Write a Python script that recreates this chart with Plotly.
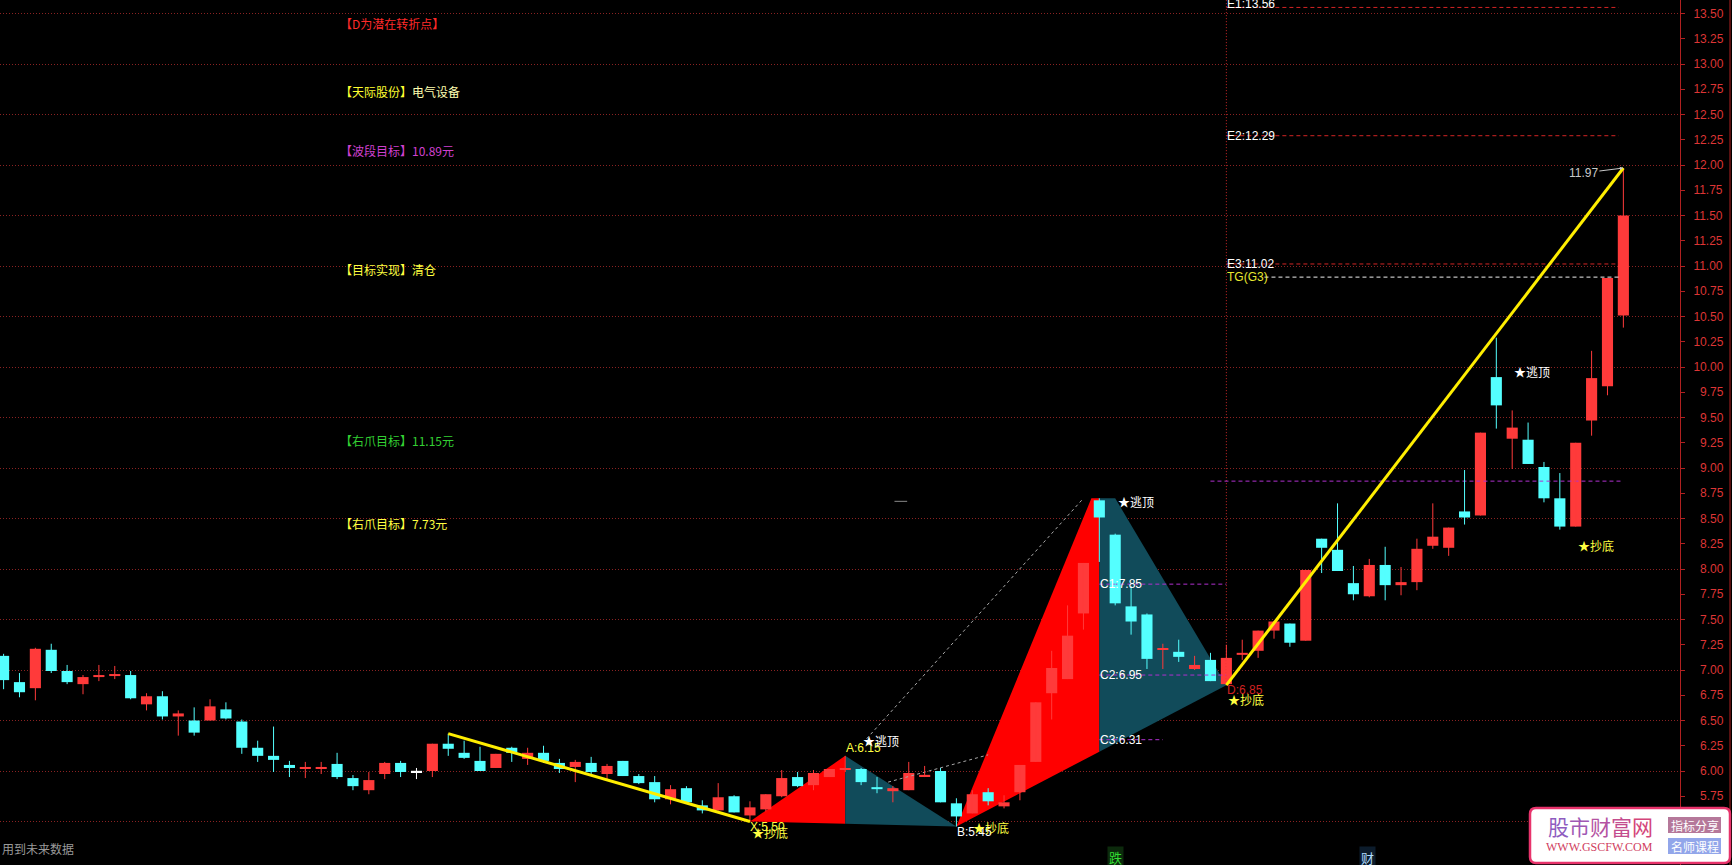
import plotly.graph_objects as go

W, H = 1732, 865

# ---------------- data ----------------
opens = [7.14, 6.88, 6.82, 7.20, 6.99, 6.86, 6.93, 6.94, 6.95, 6.66,
         6.74, 6.54, 6.50, 6.50, 6.61, 6.49, 6.23, 6.15, 6.06, 6.02,
         6.02, 6.07, 5.93, 5.81, 5.97, 6.08, 5.99, 6.00, 6.27, 6.18,
         6.10, 6.03, 6.23, 6.12, 6.18, 6.08, 6.04, 6.08, 5.97, 6.10,
         5.95, 5.89, 5.72, 5.83, 5.66, 5.61, 5.75, 5.56, 5.62, 5.75,
         5.94, 5.86, 5.94, 6.01, 6.02, 5.84, 5.80, 5.81, 5.95, 6.00,
         5.68, 5.58, 5.79, 5.65, 5.79, 6.09, 6.77, 6.91, 7.56, 8.68,
         8.34, 7.63, 7.55, 7.20, 7.18, 7.01, 7.10, 6.86, 7.15, 7.19,
         7.39, 7.46, 7.29, 8.30, 8.19, 7.86, 7.73, 8.04, 7.84, 7.87,
         8.23, 8.21, 8.57, 8.53, 9.90, 9.29, 9.28, 9.01, 8.70, 8.42,
         9.47, 9.81, 10.51]
highs = [7.16, 6.97, 7.22, 7.26, 7.05, 6.95, 7.05, 7.04, 6.99, 6.77,
         6.79, 6.60, 6.63, 6.71, 6.68, 6.51, 6.30, 6.44, 6.10, 6.09,
         6.09, 6.18, 5.96, 5.99, 6.09, 6.10, 6.03, 6.27, 6.37, 6.30,
         6.24, 6.17, 6.24, 6.23, 6.25, 6.12, 6.11, 6.14, 6.07, 6.10,
         5.97, 5.95, 5.86, 5.85, 5.71, 5.88, 5.76, 5.70, 5.77, 6.01,
         5.99, 6.01, 6.02, 6.15, 6.03, 5.94, 5.85, 6.09, 6.05, 6.03,
         5.73, 5.81, 5.83, 5.76, 6.06, 6.68, 7.19, 7.64, 8.06, 8.70,
         8.35, 7.83, 7.56, 7.26, 7.30, 7.14, 7.17, 7.25, 7.30, 7.39,
         7.48, 7.46, 7.99, 8.30, 8.65, 8.03, 8.10, 8.22, 8.02, 8.30,
         8.65, 8.41, 8.98, 9.35, 10.29, 9.57, 9.45, 9.06, 8.95, 9.25,
         10.16, 10.88, 11.97]
lows = [6.81, 6.73, 6.70, 6.97, 6.86, 6.76, 6.89, 6.91, 6.71, 6.60,
        6.51, 6.35, 6.35, 6.50, 6.51, 6.17, 6.09, 5.99, 5.94, 5.93,
        5.97, 5.92, 5.81, 5.77, 5.92, 5.94, 5.92, 5.94, 6.15, 6.12,
        6.00, 6.03, 6.09, 6.06, 6.08, 5.98, 5.89, 5.97, 5.92, 5.95,
        5.87, 5.69, 5.67, 5.69, 5.58, 5.61, 5.59, 5.50, 5.60, 5.74,
        5.84, 5.81, 5.94, 5.99, 5.86, 5.78, 5.69, 5.81, 5.94, 5.69,
        5.45, 5.58, 5.66, 5.63, 5.71, 6.09, 6.51, 6.91, 7.40, 8.07,
        7.64, 7.35, 7.01, 7.01, 7.08, 7.00, 6.89, 6.85, 7.10, 7.12,
        7.31, 7.23, 7.29, 7.96, 7.98, 7.69, 7.72, 7.69, 7.74, 7.79,
        8.20, 8.13, 8.44, 8.53, 9.39, 8.99, 9.04, 8.66, 8.39, 8.42,
        9.32, 9.72, 10.39]
closes = [6.90, 6.78, 7.21, 6.99, 6.88, 6.93, 6.95, 6.96, 6.72, 6.74,
          6.54, 6.57, 6.38, 6.64, 6.52, 6.23, 6.15, 6.11, 6.03, 6.04,
          6.04, 5.94, 5.85, 5.91, 6.08, 5.99, 5.99, 6.27, 6.22, 6.13,
          6.00, 6.17, 6.18, 6.18, 6.10, 6.02, 6.09, 5.99, 6.05, 5.95,
          5.88, 5.72, 5.82, 5.69, 5.61, 5.74, 5.59, 5.64, 5.77, 5.93,
          5.85, 5.98, 6.02, 6.03, 5.89, 5.82, 5.83, 5.98, 5.96, 5.69,
          5.55, 5.77, 5.70, 5.69, 6.06, 6.68, 7.02, 7.34, 8.06, 8.51,
          7.66, 7.48, 7.11, 7.21, 7.13, 7.05, 6.89, 7.12, 7.17, 7.39,
          7.48, 7.27, 7.99, 8.21, 7.98, 7.75, 8.04, 7.84, 7.87, 8.20,
          8.32, 8.41, 8.51, 9.35, 9.62, 9.40, 9.04, 8.70, 8.42, 9.25,
          9.89, 10.88, 11.50]

# pattern points (bar index, price)
pt_X = (47, 5.50)
pt_A = (53, 6.15)
pt_B = (60, 5.45)
pt_C = (69, 8.70)
pt_D = (77, 6.85)
trend_start = (28, 6.37)
trend_end = (102, 11.97)

E_names = ["E1", "E2", "E3"]
E_values = [13.56, 12.29, 11.02]
TG_value = 10.89
C_names = ["C1", "C2", "C3"]
C_values = [7.85, 6.95, 6.31]
C_ends = [77, 77, 73]
band_level = 8.87
band_span = (76, 102)
guide1 = [(54.35, 6.32), (68.0, 8.70)]
guide2 = [(55.7, 5.89), (62.0, 6.16)]
guide3 = [(56.1, 8.67), (56.9, 8.67)]
sig_top2 = (95, 9.96)
sig_bot2 = (99, 8.23)

tick_vals = [5.75 + 0.25 * k for k in range(32)]
grid_vals = [5.5 + 0.5 * k for k in range(17)]

left_texts = [
    ("<span style='color:#ff2a2a'>【D为潜在转折点】</span>", 23),
    ("<span style='color:#ffff30'>【天际股份】</span><span style='color:#ffffb0'>电气设备</span>", 91),
    ("<span style='color:#d040d0'>【波段目标】10.89元</span>", 150),
    ("<span style='color:#ffff40'>【目标实现】清仓</span>", 269),
    ("<span style='color:#33d033'>【右爪目标】11.15元</span>", 440),
    ("<span style='color:#ffff40'>【右爪目标】7.73元</span>", 523),
]

# ---------------- styles ----------------
RED = "#ff3a3a"
CYAN = "#54ffff"
LAT = "Liberation Sans, Arial, sans-serif"
CJK = "Noto Sans CJK SC, Liberation Sans, sans-serif"

n = len(opens)
idx = list(range(n))

# pixel geometry: bar i center at 3.6 + 15.88 * i ; plot width 1680 px
PLOT_W = 1680
x0 = -3.6 / 15.88
x1 = (PLOT_W - 3.6) / 15.88
# price p -> y = 771 - (p-6)*101
y_hi = 6 + 771 / 101
y_lo = 6 - (H - 771) / 101

fig = go.Figure()

# empty trace on grid axis
fig.add_trace(go.Scatter(x=[None], y=[None], yaxis="y2", showlegend=False, hoverinfo="skip"))

shapes = []


def poly(pts, color):
    path = "M " + " L ".join("%f,%f" % (p[0], p[1]) for p in pts) + " Z"
    shapes.append(dict(type="path", xref="x", yref="y", path=path, fillcolor=color,
                       line=dict(width=0), layer="between"))


baseA = pt_X[1] + (pt_B[1] - pt_X[1]) * (pt_A[0] - pt_X[0]) / (pt_B[0] - pt_X[0])
baseC = pt_B[1] + (pt_D[1] - pt_B[1]) * (pt_C[0] - pt_B[0]) / (pt_D[0] - pt_B[0])
TEAL = "#114b5a"
poly([pt_X, pt_A, (pt_A[0], baseA)], "#ff0000")
poly([pt_A, pt_B, (pt_A[0], baseA)], TEAL)
poly([pt_B, (pt_C[0] - 0.5, pt_C[1]), pt_C, (pt_C[0], baseC)], "#ff0000")
poly([pt_C, (pt_C[0] + 1, pt_C[1]), pt_D, (pt_C[0], baseC)], TEAL)


def seg(pts, color, width=1, dash="solid"):
    fig.add_trace(go.Scatter(x=[p[0] for p in pts], y=[p[1] for p in pts], mode="lines",
                             line=dict(color=color, width=width, dash=dash),
                             showlegend=False, hoverinfo="skip"))


seg(guide1, "#a8a8a8", 1, "3px,3px")
seg(guide2, "#a8a8a8", 1, "3px,3px")
seg(guide3, "#888888", 1)

# vertical dotted line at D
seg([(pt_D[0], pt_D[1]), (pt_D[0], y_hi)], "#c82828", 1, "1px,2px")

# E levels / TG
for v in E_values:
    seg([(pt_D[0], v), (101.7, v)], "#d22424", 1, "4px,3px")
seg([(pt_D[0] + 2.4, TG_value), (101.7, TG_value)], "#f0f0f0", 1, "4px,3px")
# C levels
for v, e in zip(C_values, C_ends):
    seg([(pt_C[0], v), (e, v)], "#b030d0", 1, "4px,3px")
seg([(band_span[0], band_level), (band_span[1], band_level)], "#b030d0", 1, "4px,3px")

# candles
groups = {"red": [], "cyan": [], "white": []}
for i in idx:
    o, c = opens[i], closes[i]
    k = "red" if c > o else ("cyan" if c < o else "white")
    groups[k].append(i)
gcol = {"red": RED, "cyan": CYAN, "white": "#ffffff"}
for k, ids in groups.items():
    wx, wy = [], []
    for i in ids:
        wx += [i, i, None]
        wy += [lows[i], highs[i], None]
    fig.add_trace(go.Scatter(x=wx, y=wy, mode="lines", line=dict(color=gcol[k], width=1),
                             showlegend=False, hoverinfo="skip"))
    fig.add_trace(go.Bar(x=ids,
                         y=[max(abs(closes[i] - opens[i]), 0.012) for i in ids],
                         base=[min(opens[i], closes[i]) for i in ids],
                         width=0.7, marker=dict(color=gcol[k], line=dict(width=0)),
                         showlegend=False, hoverinfo="skip"))

# yellow trend lines
seg([trend_start, pt_X], "#ffee00", 3)
seg([pt_D, trend_end], "#ffee00", 3)

ann = []


def label(text, pt, color, xshift=0, yshift=0, font=LAT, size=12):
    ann.append(dict(x=pt[0], y=pt[1], xref="x", yref="y", text=text, showarrow=False,
                    xanchor="left", yanchor="middle", xshift=xshift, yshift=yshift,
                    font=dict(family=font, size=size, color=color)))


label("X:%.2f" % pt_X[1], pt_X, "#ffff40", -2, -5)
label("★抄底", pt_X, "#ffff40", 0, -11, CJK)
label("A:%.2f" % pt_A[1], pt_A, "#ffff40", -1, 8)
label("★逃顶", pt_A, "#ffffff", 16, 15, CJK)
label("B:%.2f" % pt_B[1], pt_B, "#ffffff", -1, -5)
label("★抄底", pt_B, "#ffff40", 15, -1, CJK)
label("★逃顶", pt_C, "#ffffff", 17, -3, CJK)
for nm, v in zip(C_names, C_values):
    label("%s:%.2f" % (nm, v), (pt_C[0], v), "#ffffff", -1, 0)
label("D:%.2f" % pt_D[1], pt_D, "#d02020", -1, -5)
label("★抄底", pt_D, "#ffff40", 0, -14, CJK)
for nm, v in zip(E_names, E_values):
    label("%s:%.2f" % (nm, v), (pt_D[0], v), "#ffffff", -1, 3 if v > 13.4 else 0)
label("TG(G3)", (pt_D[0], TG_value), "#e8e830", -1, 0)
label("★逃顶", sig_top2, "#ffffff", 0, 0, CJK)
label("★抄底", sig_bot2, "#ffff40", 0, 0, CJK)

ann.append(dict(x=trend_end[0], y=trend_end[1], xref="x", yref="y", text="%.2f" % trend_end[1],
                showarrow=True, arrowhead=2, arrowsize=0.7, arrowwidth=1, arrowcolor="#c8c8c8",
                ax=-40, ay=5, font=dict(family=LAT, size=12, color="#c8c8c8")))

for txt, yc in left_texts:
    ann.append(dict(x=338 / W, y=1 - yc / H, xref="paper", yref="paper", text=txt, showarrow=False,
                    xanchor="left", yanchor="middle", font=dict(family=CJK, size=12)))

ann.append(dict(x=0, y=1 - 848 / H, xref="paper", yref="paper", text="用到未来数据", showarrow=False,
                xanchor="left", yanchor="middle", font=dict(family=CJK, size=12, color="#9a9a9a")))
ann.append(dict(x=1115 / W, y=1 - 857 / H, xref="paper", yref="paper", text="跌", showarrow=False,
                xanchor="center", yanchor="middle", bgcolor="#0c2a0c",
                font=dict(family=CJK, size=13, color="#33dd33")))
ann.append(dict(x=1367 / W, y=1 - 857 / H, xref="paper", yref="paper", text="财", showarrow=False,
                xanchor="center", yanchor="middle", bgcolor="#0c1c2c",
                font=dict(family=CJK, size=13, color="#b0ddff")))

# ---------------- logo (watermark) ----------------
def px(xp):
    return xp / W


def py(yp):
    return 1 - yp / H


def rrect(xa, ya, xb, yb, r):
    return ("M %f,%f L %f,%f Q %f,%f %f,%f L %f,%f Q %f,%f %f,%f L %f,%f Q %f,%f %f,%f "
            "L %f,%f Q %f,%f %f,%f Z") % (
        px(xa + r), py(ya), px(xb - r), py(ya), px(xb), py(ya), px(xb), py(ya + r),
        px(xb), py(yb - r), px(xb), py(yb), px(xb - r), py(yb),
        px(xa + r), py(yb), px(xa), py(yb), px(xa), py(yb - r),
        px(xa), py(ya + r), px(xa), py(ya), px(xa + r), py(ya))


shapes += [
    dict(type="line", xref="paper", yref="paper", x0=px(1730), x1=px(1730), y0=0, y1=1,
         line=dict(color="#b02020", width=1)),
    dict(type="path", xref="paper", yref="paper", path=rrect(1530, 808, 1730, 863, 6),
         fillcolor="#ffffff", line=dict(color="#e8336b", width=2.5), layer="above"),
    dict(type="rect", xref="paper", yref="paper", x0=px(1668), x1=px(1721), y0=py(833), y1=py(817),
         fillcolor="#b5789a", line=dict(width=0), layer="above"),
    dict(type="rect", xref="paper", yref="paper", x0=px(1668), x1=px(1721), y0=py(854), y1=py(838),
         fillcolor="#92a6ea", line=dict(width=0), layer="above"),
]
logo_chars = "股市财富网"
logo_cols = ["#8e5cc0", "#a058b4", "#b452a2", "#c44c8e", "#d4467a"]
logo_txt = "".join("<span style='color:%s'>%s</span>" % (c, ch) for ch, c in zip(logo_chars, logo_cols))
ann.append(dict(x=px(1600), y=py(826), xref="paper", yref="paper", text=logo_txt, showarrow=False,
                xanchor="center", yanchor="middle", font=dict(family=CJK, size=21)))
ann.append(dict(x=px(1599), y=py(847), xref="paper", yref="paper", text="WWW.GSCFW.COM", showarrow=False,
                xanchor="center", yanchor="middle",
                font=dict(family="Liberation Serif, serif", size=12, color="#d04060")))
ann.append(dict(x=px(1694.5), y=py(825), xref="paper", yref="paper", text="指标分享", showarrow=False,
                xanchor="center", yanchor="middle", font=dict(family=CJK, size=12, color="#ffffff")))
ann.append(dict(x=px(1694.5), y=py(846), xref="paper", yref="paper", text="名师课程", showarrow=False,
                xanchor="center", yanchor="middle", font=dict(family=CJK, size=12, color="#ffffff")))

tick_text = [("\u2007" if v < 10 else "") + "%.2f" % v for v in tick_vals]

fig.update_layout(
    width=W, height=H, margin=dict(l=0, r=0, t=0, b=0),
    paper_bgcolor="#000000", plot_bgcolor="#000000",
    barmode="overlay", showlegend=False, hovermode=False,
    xaxis=dict(range=[x0, x1], domain=[0, PLOT_W / W], visible=False, fixedrange=True),
    yaxis=dict(range=[y_lo, y_hi], side="right", anchor="x", showgrid=False, zeroline=False,
               showline=True, linecolor="#b02020", linewidth=1, ticks="outside", ticklen=4,
               tickcolor="#b02020", tickvals=tick_vals, ticktext=tick_text,
               tickfont=dict(family=LAT, size=12, color="#dd3535"), ticklabelstandoff=6,
               fixedrange=True),
    yaxis2=dict(range=[y_lo, y_hi], overlaying="y", anchor="x", side="right", showgrid=True,
                gridcolor="#8a2222", griddash="1px,2px", gridwidth=1, tickvals=grid_vals,
                showticklabels=False, ticks="", showline=False, zeroline=False, fixedrange=True),
    annotations=ann,
    shapes=shapes,
)

fig.write_html("out.html", config={"displayModeBar": False},
               post_script="document.body.style.margin='0px';"
                           "document.body.style.overflow='hidden';")
